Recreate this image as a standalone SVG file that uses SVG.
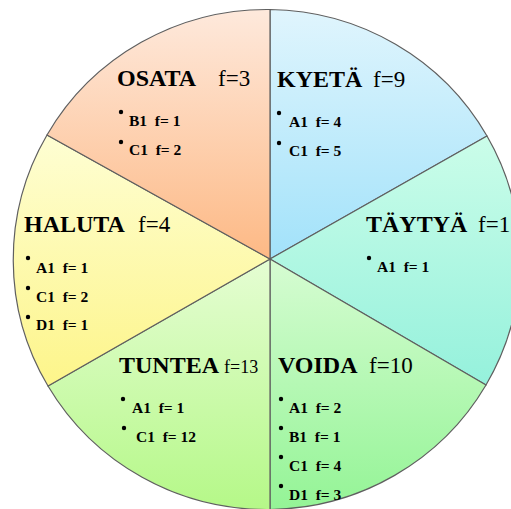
<svg xmlns="http://www.w3.org/2000/svg" width="511" height="509" viewBox="0 0 511 509">
<style>
.w{stroke:#5f5f5f;stroke-width:1.2;stroke-linejoin:round}
.t{font-family:"Liberation Serif","Times New Roman",serif;fill:#000}
.h{font-size:24px;font-weight:bold}
.f{font-size:23px}
.i{font-size:15.5px;font-weight:bold}
.d{fill:#000}
</style>
<defs>
<linearGradient id="gO" x1="0" y1="0" x2="0" y2="1"><stop offset="0" stop-color="#fee9dc"/><stop offset="1" stop-color="#fdb985"/></linearGradient>
<linearGradient id="gK" x1="0" y1="0" x2="0" y2="1"><stop offset="0" stop-color="#e0f5fd"/><stop offset="1" stop-color="#a2e2fa"/></linearGradient>
<linearGradient id="gT" x1="0" y1="0" x2="0" y2="1"><stop offset="0" stop-color="#cbfde9"/><stop offset="1" stop-color="#95f1dc"/></linearGradient>
<linearGradient id="gV" x1="0" y1="0" x2="0" y2="1"><stop offset="0" stop-color="#d6fcd2"/><stop offset="1" stop-color="#94f496"/></linearGradient>
<linearGradient id="gU" x1="0" y1="0" x2="0" y2="1"><stop offset="0" stop-color="#e5fdd3"/><stop offset="1" stop-color="#b5f888"/></linearGradient>
<linearGradient id="gH" x1="0" y1="0" x2="0" y2="1"><stop offset="0" stop-color="#fefed3"/><stop offset="1" stop-color="#fdf58a"/></linearGradient>
</defs>
<g id="kyeta">
<path class="w" fill="url(#gK)" d="M270,259 L270,9.5 A253.5,250 0 0 1 487,136 Z"/>
<text class="t h" x="277" y="87">KYETÄ</text><text class="t f" x="373" y="87">f=9</text>
<circle class="d" cx="279" cy="113" r="2.2"/><text class="t i" x="289" y="127" xml:space="preserve">A1  f= 4</text>
<circle class="d" cx="279" cy="143" r="2.2"/><text class="t i" x="289" y="156" xml:space="preserve">C1  f= 5</text>
</g>
<g id="taytya">
<path class="w" fill="url(#gT)" d="M270,259 L487,136 A253.5,250 0 0 1 486,385 Z"/>
<text class="t h" x="366" y="232">TÄYTYÄ</text><text class="t f" x="478" y="232">f=1</text>
<circle class="d" cx="369" cy="258" r="2.2"/><text class="t i" x="377" y="272" xml:space="preserve">A1  f= 1</text>
</g>
<g id="voida">
<path class="w" fill="url(#gV)" d="M270,259 L486,385 A253.5,250 0 0 1 270,509.5 Z"/>
<text class="t h" x="278" y="373">VOIDA</text><text class="t f" x="369" y="373">f=10</text>
<circle class="d" cx="281" cy="399" r="2.2"/><text class="t i" x="289" y="413" xml:space="preserve">A1  f= 2</text>
<circle class="d" cx="281" cy="428" r="2.2"/><text class="t i" x="289" y="442" xml:space="preserve">B1  f= 1</text>
<circle class="d" cx="281" cy="457" r="2.2"/><text class="t i" x="289" y="471" xml:space="preserve">C1  f= 4</text>
<circle class="d" cx="281" cy="486" r="2.2"/><text class="t i" x="289" y="500" xml:space="preserve">D1  f= 3</text>
</g>
<g id="tuntea">
<path class="w" fill="url(#gU)" d="M270,259 L270,509.5 A253.5,250 0 0 1 48,386 Z"/>
<text class="t h" x="119" y="373">TUNTEA</text><text class="t" font-size="18" x="224" y="373">f=13</text>
<circle class="d" cx="123" cy="399" r="2.2"/><text class="t i" x="132" y="413" xml:space="preserve">A1  f= 1</text>
<circle class="d" cx="124" cy="428" r="2.2"/><text class="t i" x="136" y="442" xml:space="preserve">C1  f= 12</text>
</g>
<g id="haluta">
<path class="w" fill="url(#gH)" d="M270,259 L48,386 A253.5,250 0 0 1 47,135 Z"/>
<text class="t h" x="24" y="232">HALUTA</text><text class="t f" x="138" y="232">f=4</text>
<circle class="d" cx="28" cy="258" r="2.2"/><text class="t i" x="36" y="273" xml:space="preserve">A1  f= 1</text>
<circle class="d" cx="28" cy="288" r="2.2"/><text class="t i" x="36" y="302" xml:space="preserve">C1  f= 2</text>
<circle class="d" cx="28" cy="317" r="2.2"/><text class="t i" x="36" y="330" xml:space="preserve">D1  f= 1</text>
</g>
<g id="osata">
<path class="w" fill="url(#gO)" d="M270,259 L47,135 A253.5,250 0 0 1 270,9.5 Z"/>
<text class="t h" x="117" y="86">OSATA</text><text class="t f" x="218" y="86">f=3</text>
<circle class="d" cx="121" cy="112" r="2.2"/><text class="t i" x="129" y="126" xml:space="preserve">B1  f= 1</text>
<circle class="d" cx="121" cy="142" r="2.2"/><text class="t i" x="129" y="155" xml:space="preserve">C1  f= 2</text>
</g>
<g id="connectors"/>
</svg>
